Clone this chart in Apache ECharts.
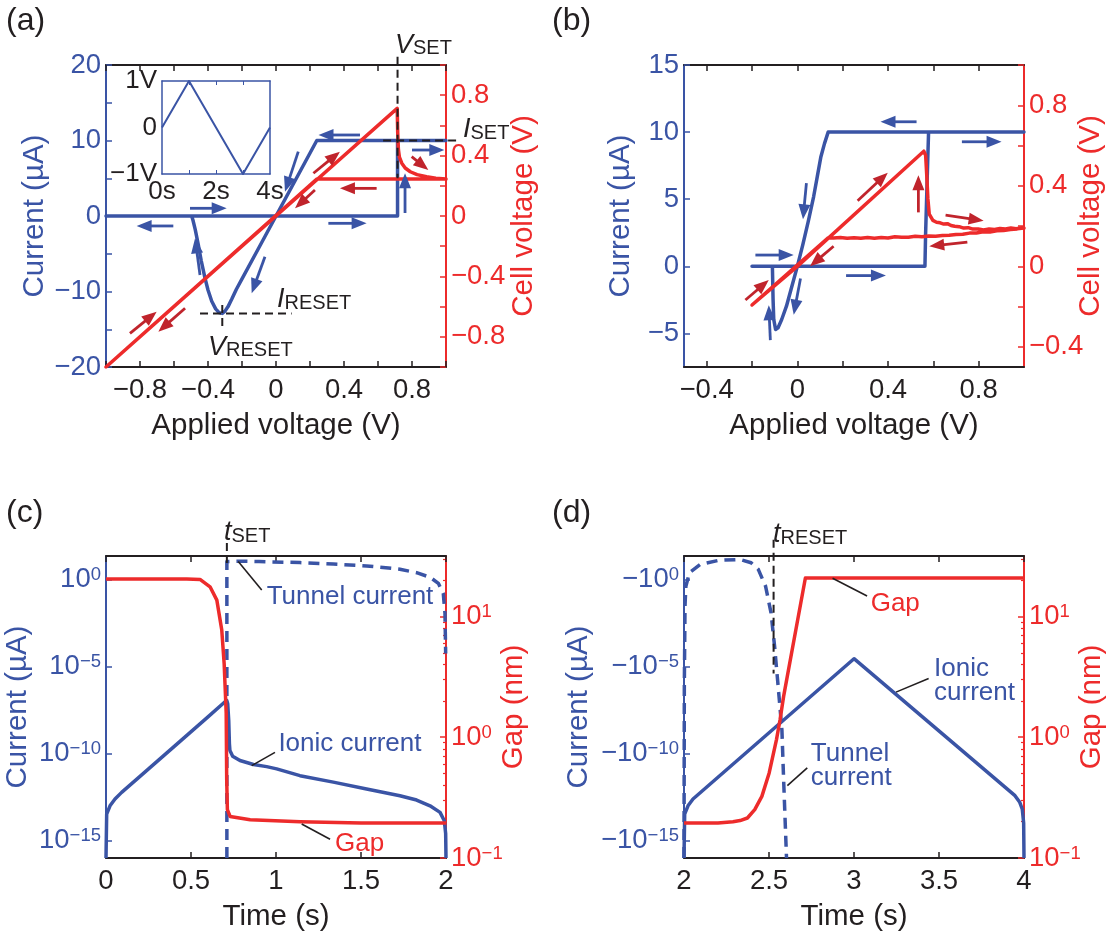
<!DOCTYPE html>
<html>
<head>
<meta charset="utf-8">
<script src="https://cdn.jsdelivr.net/npm/echarts@6.0.0/dist/echarts.min.js"></script>
<style>
html,body{margin:0;padding:0;background:#ffffff;}
#chart{width:1106px;height:941px;}
</style>
</head>
<body>
<div id="chart"></div>
<script>
// ================= DATA =================
// (a) simulation: applied voltage (V) -> current (µA), in sweep order
const aApplied = [0, 0.715, 0.715, 1.0, 0.24, 0.0, -0.1, -0.2, -0.233, -0.26, -0.282, -0.3, -0.316, -0.335, -0.355, -0.378, -0.4, -0.418, -0.44, -0.457, -0.475, -0.488, -0.496, -1.0, 0.0];
const aCurrent = [0, 0, 10, 10, 10, 0, -4.17, -8.33, -9.7, -11.0, -12.0, -12.6, -12.9, -12.8, -12.3, -11.3, -9.8, -8.2, -5.9, -3.8, -1.8, -0.6, 0, 0, 0];
// (a) cell voltage (V)
const aAppliedCell = [0, 0.713, 0.716, 0.72, 0.726, 0.74, 0.76, 0.79, 0.83, 0.886, 0.94, 1.0, 0.24, -1.0, 0.0];
const aCellVoltage = [0, 0.713, 0.55, 0.44, 0.39, 0.35, 0.318, 0.293, 0.274, 0.26, 0.25, 0.245, 0.245, -1.0, 0.0];
// (a) inset: applied voltage waveform
const insetTime = [0, 1, 3, 4];
const insetVoltage = [0, 1, -1, 0];

// (b) experiment: applied voltage (V) -> current (µA)
const bApplied = [0, 0.563, 0.566, 0.572, 0.579, 1.0, 0.136, 0.12, 0.104, 0.088, 0.072, 0.048, 0.024, 0, -0.024, -0.048, -0.069, -0.085, -0.096, -0.104, -0.107, -0.11, -0.2, 0];
const bCurrent = [0, 0, 2.5, 6, 10, 10, 10, 9.16, 8.17, 6.68, 5.2, 3.34, 1.6, 0, -1.49, -2.97, -3.96, -4.58, -4.7, -3.96, -2.48, 0, 0, 0];
// (b) cell voltage (V)
const bAppliedCell = [0, 0.558, 0.566, 0.571, 0.576, 0.582, 0.598, 0.614, 0.63, 0.646, 0.662, 0.678, 0.694, 0.714, 0.734, 0.754, 0.774, 0.798, 0.822, 0.846, 0.87, 0.894, 0.918, 0.942, 0.966, 0.99, 1.0,
  0.97, 0.94, 0.91, 0.88, 0.85, 0.82, 0.79, 0.76, 0.73, 0.70, 0.67, 0.64, 0.61, 0.58, 0.55, 0.52, 0.49, 0.46, 0.43, 0.40, 0.37, 0.34, 0.31, 0.28, 0.25, 0.22, 0.19, 0.16, 0.136, -0.2, 0];
const bCellVoltage = [0, 0.572, 0.552, 0.452, 0.335, 0.259, 0.228, 0.219, 0.216, 0.21, 0.212, 0.203, 0.199, 0.197, 0.19, 0.192, 0.185, 0.186, 0.181, 0.186, 0.183, 0.188, 0.185, 0.19, 0.187, 0.192, 0.19,
  0.186, 0.183, 0.178, 0.177, 0.171, 0.172, 0.166, 0.165, 0.159, 0.158, 0.154, 0.153, 0.15, 0.151, 0.147, 0.149, 0.145, 0.144, 0.147, 0.141, 0.143, 0.14, 0.143, 0.139, 0.142, 0.14, 0.143, 0.141, 0.142, -0.192, 0];

// (c) SET: time (s), log10 of current (µA) and gap (nm)
const cTimeIonic = [0, 0.004, 0.0235, 0.053, 0.092, 0.2, 0.4, 0.6, 0.71, 0.716, 0.722, 0.726, 0.729, 0.745, 0.788, 0.867, 0.945, 1.004, 1.141, 1.337, 1.533, 1.729, 1.827, 1.906, 1.965, 1.99, 1.998, 2.0];
const cIonicLog10 = [-16, -13.48, -13.0, -12.61, -12.23, -11.31, -9.6, -7.89, -6.94, -7.14, -8.1, -9.44, -9.83, -10.15, -10.4, -10.63, -10.75, -10.88, -11.27, -11.64, -12.04, -12.42, -12.67, -13.0, -13.38, -13.86, -14.6, -16];
const cTimeTunnel = [0.711, 0.711, 0.72, 0.8, 0.9, 1.141, 1.337, 1.533, 1.729, 1.827, 1.906, 1.955, 1.984, 1.994, 1.998];
const cTunnelLog10 = [-16, 1.03, 1.07, 1.05, 1.03, 0.97, 0.89, 0.78, 0.59, 0.39, 0.13, -0.22, -0.8, -1.95, -4.25];
const cTimeGap = [0, 0.3, 0.475, 0.553, 0.612, 0.652, 0.681, 0.695, 0.707, 0.71, 0.714, 0.73, 0.848, 1.142, 1.5, 2.0];
const cGapLog10 = [1.31, 1.31, 1.31, 1.306, 1.245, 1.135, 0.887, 0.61, 0.2, -0.35, -0.6, -0.656, -0.683, -0.70, -0.71, -0.71];

// (d) RESET: time (s), log10 of |current| (µA) and gap (nm)
const dTimeTunnel = [2.0, 2.002, 2.006, 2.011, 2.032, 2.096, 2.203, 2.33, 2.395, 2.437, 2.48, 2.512, 2.533, 2.554, 2.576, 2.586, 2.603];
const dTunnelLog10 = [-16, -6, -1.5, -0.39, 0.39, 0.87, 1.1, 1.15, 0.96, 0.58, -0.39, -1.92, -3.85, -6.15, -8.65, -11.5, -16];
const dTimeIonic = [2.0, 2.004, 2.0235, 2.053, 3.0, 3.947, 3.975, 3.99, 3.998, 4.0];
const dIonicLog10 = [-16, -13.48, -13.0, -12.61, -4.55, -12.42, -12.8, -13.2, -14.0, -16];
const dTimeGap = [2.0, 2.2, 2.288, 2.33, 2.373, 2.416, 2.458, 2.501, 2.544, 2.565, 2.586, 2.714, 4.0];
const dGapLog10 = [-0.71, -0.71, -0.70, -0.69, -0.669, -0.60, -0.49, -0.296, -0.02, 0.145, 0.338, 1.318, 1.318];

// tick / label values
const aTicksX = [-1, -0.8, -0.6, -0.4, -0.2, 0, 0.2, 0.4, 0.6, 0.8, 1];
const aLabelsX = [-0.8, -0.4, 0, 0.4, 0.8];
const aTicksI = [-20, -15, -10, -5, 0, 5, 10, 15, 20];
const aLabelsI = [-20, -10, 0, 10, 20];
const aTicksV = [-1, -0.8, -0.6, -0.4, -0.2, 0, 0.2, 0.4, 0.6, 0.8, 1];
const aLabelsV = [-0.8, -0.4, 0, 0.4, 0.8];
const bTicksX = [-0.4, -0.2, 0, 0.2, 0.4, 0.6, 0.8];
const bLabelsX = [-0.4, 0, 0.4, 0.8];
const bTicksI = [-5, 0, 5, 10, 15];
const bTicksV = [-0.4, -0.2, 0, 0.2, 0.4, 0.6, 0.8, 1];
const bLabelsV = [-0.4, 0, 0.4, 0.8];
const cTicksX = [0, 0.5, 1, 1.5, 2];
const dTicksX = [2, 2.5, 3, 3.5, 4];
const logCurrentTicks = [-15, -10, -5, 0];
const logGapTicks = [-1, 0, 1];
const logGapMinor = [2, 3, 4, 5, 6, 7, 8, 9, 20, 30].map(v => Math.log10(v)).concat([0.2, 0.3, 0.4, 0.5, 0.6, 0.7, 0.8, 0.9].map(v => Math.log10(v)));

// ================= STYLE =================
const BLUE = '#3a54a5', RED = '#ed2b2b', DRED = '#c0242c', BLACK = '#231f20';
const FONT = "'Liberation Sans', Arial, Helvetica, sans-serif";
const TICK = 27.5, TITLE = 29.5;

const zip = (xs, ys) => xs.map((x, i) => [x, ys[i]]);
const num = v => { const r = Math.round(v * 1000) / 1000; return (r < 0 ? '\u2212' : '') + Math.abs(r); };
const pow10 = prefix => v => { const n = Math.round(v); return '{b|' + prefix + '10}{s|' + (n < 0 ? '\u2212' + (-n) : n) + '}'; };
const logRich = color => ({
  b: { fontSize: TICK, lineHeight: 28, color: color, fontFamily: FONT, verticalAlign: 'bottom' },
  s: { fontSize: 18.5, lineHeight: 11, color: color, fontFamily: FONT, verticalAlign: 'top' }
});

function bottomX(gi, min, max, ticks, labels, fmt, name) {
  return {
    type: 'value', gridIndex: gi, position: 'bottom', min: min, max: max,
    axisLine: { show: true, onZero: false, lineStyle: { color: BLACK, width: 2 } },
    axisTick: { show: true, inside: true, length: 6, lineStyle: { color: BLACK, width: 1.5 }, customValues: ticks },
    axisLabel: { show: true, customValues: labels, formatter: fmt, color: BLACK, fontSize: TICK, fontFamily: FONT, margin: 9, hideOverlap: false },
    splitLine: { show: false },
    name: name, nameLocation: 'middle', nameGap: 44,
    nameTextStyle: { color: BLACK, fontSize: TITLE, fontFamily: FONT }
  };
}
function topX(gi, min, max, ticks) {
  return {
    type: 'value', gridIndex: gi, position: 'top', min: min, max: max,
    axisLine: { show: true, onZero: false, lineStyle: { color: BLACK, width: 2 } },
    axisTick: { show: true, inside: true, length: 6, lineStyle: { color: BLACK, width: 1.5 }, customValues: ticks },
    axisLabel: { show: false }, splitLine: { show: false }
  };
}
function sideY(gi, pos, min, max, ticks, labels, fmt, color, name, gap, rich, noMove) {
  const lab = { show: true, customValues: labels, formatter: fmt, color: color, fontSize: TICK, fontFamily: FONT, margin: 5, hideOverlap: false };
  if (rich) lab.rich = rich;
  const ax = {
    type: 'value', gridIndex: gi, position: pos, min: min, max: max,
    axisLine: { show: true, onZero: false, lineStyle: { color: color, width: 2 } },
    axisTick: { show: true, inside: true, length: 6, lineStyle: { color: color, width: 1.5 }, customValues: ticks },
    axisLabel: lab, splitLine: { show: false },
    name: name, nameLocation: 'middle', nameGap: gap,
    nameTextStyle: { color: color, fontSize: TITLE, fontFamily: FONT }
  };
  if (noMove) ax.nameMoveOverlap = false;
  return ax;
}
function minorY(gi, min, max, ticks, color) {
  return {
    type: 'value', gridIndex: gi, position: 'right', min: min, max: max,
    axisLine: { show: false, onZero: false },
    axisTick: { show: true, inside: true, length: 3, lineStyle: { color: color, width: 1.2 }, customValues: ticks },
    axisLabel: { show: false }, splitLine: { show: false }
  };
}

const W = 340, H = 302;
const G = (left, top, w, h) => ({ left: left, top: top, width: w, height: h, outerBoundsMode: 'none', containLabel: false });
const option = {
  animation: false,
  backgroundColor: '#ffffff',
  textStyle: { fontFamily: FONT },
  grid: [
    G(106, 65, W, H),
    G(684, 65, W, H),
    G(106, 556, W, H),
    G(684, 556, W, H),
    G(162, 81, 108, 93)
  ],
  xAxis: [
    bottomX(0, -1, 1, aTicksX, aLabelsX, num, 'Applied voltage (V)'),
    topX(0, -1, 1, aTicksX),
    bottomX(1, -0.5, 1, bTicksX, bLabelsX, num, 'Applied voltage (V)'),
    topX(1, -0.5, 1, bTicksX),
    bottomX(2, 0, 2, cTicksX, cTicksX, num, 'Time (s)'),
    topX(2, 0, 2, cTicksX),
    bottomX(3, 2, 4, dTicksX, dTicksX, num, 'Time (s)'),
    topX(3, 2, 4, dTicksX),
    { type: 'value', gridIndex: 4, position: 'bottom', min: 0, max: 4,
      axisLine: { show: true, onZero: false, lineStyle: { color: BLUE, width: 1.5 } },
      axisTick: { show: true, inside: true, length: 4, lineStyle: { color: BLUE, width: 1 }, customValues: [1, 2, 3] },
      axisLabel: { show: true, customValues: [0, 2, 4], formatter: v => v + 's', color: BLACK, fontSize: 26, fontFamily: FONT, margin: 5 },
      splitLine: { show: false } },
    { type: 'value', gridIndex: 4, position: 'top', min: 0, max: 4,
      axisLine: { show: true, onZero: false, lineStyle: { color: BLUE, width: 1.5 } },
      axisTick: { show: true, inside: true, length: 4, lineStyle: { color: BLUE, width: 1 }, customValues: [1, 2, 3] },
      axisLabel: { show: false }, splitLine: { show: false } }
  ],
  yAxis: [
    sideY(0, 'left', -20, 20, aTicksI, aLabelsI, num, BLUE, 'Current (\u00b5A)', 56),
    sideY(0, 'right', -1, 1, aTicksV, aLabelsV, num, RED, 'Cell voltage (V)', 47),
    sideY(1, 'left', -7.5, 15, bTicksI, bTicksI, num, BLUE, 'Current (\u00b5A)', 48),
    sideY(1, 'right', -0.5, 1, bTicksV, bLabelsV, num, RED, 'Cell voltage (V)', 52, null, true),
    sideY(2, 'left', -16, 1.35, logCurrentTicks, logCurrentTicks, pow10(''), BLUE, 'Current (\u00b5A)', 73, logRich(BLUE)),
    sideY(2, 'right', -1, 1.5, logGapTicks, logGapTicks, pow10(''), RED, 'Gap (nm)', 53, logRich(RED), true),
    sideY(3, 'left', -16, 1.35, logCurrentTicks, logCurrentTicks, pow10('\u2212'), BLUE, 'Current (\u00b5A)', 90, logRich(BLUE)),
    sideY(3, 'right', -1, 1.5, logGapTicks, logGapTicks, pow10(''), RED, 'Gap (nm)', 53, logRich(RED), true),
    { type: 'value', gridIndex: 4, position: 'left', min: -1, max: 1,
      axisLine: { show: true, onZero: false, lineStyle: { color: BLUE, width: 1.5 } },
      axisTick: { show: false },
      axisLabel: { show: true, customValues: [-1, 0, 1], formatter: v => v === 0 ? '0' : (v > 0 ? '1V' : '\u22121V'), color: BLACK, fontSize: 26, fontFamily: FONT, margin: 5 },
      splitLine: { show: false } },
    { type: 'value', gridIndex: 4, position: 'right', min: -1, max: 1,
      axisLine: { show: true, onZero: false, lineStyle: { color: BLUE, width: 1.5 } },
      axisTick: { show: false }, axisLabel: { show: false }, splitLine: { show: false } },
    minorY(2, -1, 1.5, logGapMinor, RED),
    minorY(3, -1, 1.5, logGapMinor, RED)
  ],
  series: []
};

function line(xi, yi, data, color, width, dash, z) {
  return {
    type: 'line', xAxisIndex: xi, yAxisIndex: yi, data: data, showSymbol: false, symbol: 'none',
    lineStyle: { color: color, width: width, type: dash || 'solid', join: 'round', cap: 'butt' },
    z: z || 2, silent: true
  };
}
option.series = [
  line(0, 0, zip(aApplied, aCurrent), BLUE, 3.5, null, 2),
  line(0, 1, zip(aAppliedCell, aCellVoltage), RED, 3.5, null, 3),
  line(8, 8, zip(insetTime, insetVoltage), BLUE, 2, null, 2),
  line(2, 2, zip(bApplied, bCurrent), BLUE, 3.5, null, 2),
  line(2, 3, zip(bAppliedCell, bCellVoltage), RED, 3.5, null, 3),
  line(4, 4, zip(cTimeIonic, cIonicLog10), BLUE, 3.5, null, 2),
  line(4, 4, zip(cTimeTunnel, cTunnelLog10), BLUE, 3.5, [11, 7], 2),
  line(4, 5, zip(cTimeGap, cGapLog10), RED, 3.5, null, 3),
  line(6, 6, zip(dTimeIonic, dIonicLog10), BLUE, 3.5, null, 2),
  line(6, 6, zip(dTimeTunnel, dTunnelLog10), BLUE, 3.5, [11, 7], 2),
  line(6, 7, zip(dTimeGap, dGapLog10), RED, 3.5, null, 3)
];

const chart = echarts.init(document.getElementById('chart'), null, { renderer: 'canvas' });
chart.setOption(option);

// ================= ANNOTATIONS (placed in data coordinates) =================
const PAN = { a: { x: 0, L: 0, R: 1 }, b: { x: 2, L: 2, R: 3 }, c: { x: 4, L: 4, R: 5 }, d: { x: 6, L: 6, R: 7 } };
function P(p, ax, x, y) {
  const q = PAN[p];
  return [chart.convertToPixel({ xAxisIndex: q.x }, x), chart.convertToPixel({ yAxisIndex: q[ax] }, y)];
}
const els = [];
function seg(p, ax, a, b, color, width, dash) {
  const p0 = P(p, ax, a[0], a[1]), p1 = P(p, ax, b[0], b[1]);
  els.push({ type: 'line', z: 20, silent: true, shape: { x1: p0[0], y1: p0[1], x2: p1[0], y2: p1[1] },
    style: { stroke: color, lineWidth: width, lineDash: dash || null } });
}
function arrow(p, ax, a, b, color) {
  const p0 = P(p, ax, a[0], a[1]), p1 = P(p, ax, b[0], b[1]);
  const dx = p1[0] - p0[0], dy = p1[1] - p0[1], L = Math.hypot(dx, dy), ux = dx / L, uy = dy / L;
  const hl = 15, hw = 6, bx = p1[0] - ux * hl, by = p1[1] - uy * hl;
  els.push({ type: 'line', z: 21, silent: true, shape: { x1: p0[0], y1: p0[1], x2: bx + ux * 2, y2: by + uy * 2 },
    style: { stroke: color, lineWidth: 2.8 } });
  els.push({ type: 'polygon', z: 21, silent: true,
    shape: { points: [[p1[0], p1[1]], [bx - uy * hw, by + ux * hw], [bx + uy * hw, by - ux * hw]] },
    style: { fill: color } });
}
function txt(p, ax, at, text, color, rich, lineH) {
  const q = P(p, ax, at[0], at[1]);
  const st = { text: text, fill: color, fontSize: 26, fontFamily: FONT, align: 'left', verticalAlign: 'middle' };
  if (lineH) st.lineHeight = lineH;
  if (rich) st.rich = rich;
  els.push({ type: 'text', z: 22, silent: true, x: q[0], y: q[1], style: st });
}
const subRich = {
  i: { fontSize: 27, fontStyle: 'italic', fontFamily: FONT, fill: BLACK, lineHeight: 27, verticalAlign: 'bottom' },
  s: { fontSize: 20, fontFamily: FONT, fill: BLACK, lineHeight: 16, verticalAlign: 'bottom' }
};
const DASH = [8, 5];

// (a) guide lines and labels
seg('a', 'L', [0.715, 21.1], [0.715, 5], BLACK, 2, DASH);
seg('a', 'L', [0.63, 10], [1.07, 10], BLACK, 2, DASH);
seg('a', 'L', [-0.316, -11.8], [-0.316, -15.1], BLACK, 2, DASH);
seg('a', 'L', [-0.447, -12.9], [0.092, -12.9], BLACK, 2, DASH);
txt('a', 'L', [0.70, 22.6], '{i|V}{s|SET}', BLACK, subRich);
txt('a', 'L', [1.10, 11.4], '{i|I}{s|SET}', BLACK, subRich);
txt('a', 'L', [0.006, -11.1], '{i|I}{s|RESET}', BLACK, subRich);
txt('a', 'L', [-0.40, -17.35], '{i|V}{s|RESET}', BLACK, subRich);
// (a) arrows
[[[0.494, 10.73], [0.25, 10.73]], [[0.80, 8.74], [0.99, 8.74]], [[0.759, 0.4], [0.759, 5.65]],
 [[0.308, -0.97], [0.533, -0.97]], [[-0.506, 1.02], [-0.29, 1.02]], [[-0.604, -1.32], [-0.82, -1.32]],
 [[0.131, 8.52], [0.053, 3.22]], [[-0.065, -5.39], [-0.143, -10.24]], [[-0.447, -7.81], [-0.476, -2.96]]
].forEach(a => arrow('a', 'L', a[0], a[1], BLUE));
[[[0.22, 0.283], [0.376, 0.426]], [[0.229, 0.172], [0.112, 0.051]], [[0.592, 0.183], [0.376, 0.183]],
 [[0.798, 0.393], [0.896, 0.305]], [[-0.859, -0.777], [-0.702, -0.634]], [[-0.535, -0.611], [-0.692, -0.766]]
].forEach(a => arrow('a', 'R', a[0], a[1], DRED));

// (b) arrows
[[[0.526, 10.77], [0.367, 10.77]], [[0.726, 9.28], [0.901, 9.28]], [[0.04, 6.2], [0.025, 3.5]],
 [[-0.185, 0.84], [-0.016, 0.84]], [[0.215, -0.69], [0.391, -0.69]], [[0.014, -0.9], [-0.016, -3.6]],
 [[-0.119, -5.5], [-0.126, -2.9]]
].forEach(a => arrow('b', 'L', a[0], a[1], BLUE));
[[[0.266, 0.326], [0.399, 0.465]], [[0.534, 0.268], [0.534, 0.452]], [[0.654, 0.254], [0.822, 0.226]],
 [[0.75, 0.12], [0.582, 0.10]], [[0.16, 0.10], [0.056, 0.0]], [[-0.229, -0.167], [-0.126, -0.068]]
].forEach(a => arrow('b', 'R', a[0], a[1], DRED));

// (c) labels
seg('c', 'L', [0.711, 2.1], [0.711, 0.95], BLACK, 2, DASH);
txt('c', 'L', [0.694, 2.68], '{i|t}{s|SET}', BLACK, subRich);
seg('c', 'L', [0.778, 1.03], [0.916, -0.6], BLACK, 1.6);
txt('c', 'L', [0.945, -0.99], 'Tunnel current', BLUE);
seg('c', 'L', [0.857, -10.69], [0.994, -9.93], BLACK, 1.6);
txt('c', 'L', [1.014, -9.44], 'Ionic current', BLUE);
seg('c', 'L', [1.151, -14.05], [1.318, -14.92], BLACK, 1.6);
txt('c', 'L', [1.347, -15.2], 'Gap', RED);

// (d) labels
seg('d', 'L', [2.527, 2.28], [2.527, -5.4], BLACK, 2, DASH);
txt('d', 'L', [2.524, 2.56], '{i|t}{s|RESET}', BLACK, subRich);
seg('d', 'L', [2.874, 0.07], [3.077, -0.95], BLACK, 1.6);
txt('d', 'L', [3.098, -1.37], 'Gap', RED);
seg('d', 'L', [3.247, -6.47], [3.439, -5.69], BLACK, 1.6);
txt('d', 'L', [3.471, -5.8], 'Ionic\ncurrent', BLUE, null, 24);
seg('d', 'L', [2.608, -11.84], [2.725, -10.82], BLACK, 1.6);
txt('d', 'L', [2.746, -10.7], 'Tunnel\ncurrent', BLUE, null, 24);

// panel letters
[['(a)', 6, 21], ['(b)', 552, 21], ['(c)', 6, 513], ['(d)', 552, 513]].forEach(t => {
  els.push({ type: 'text', z: 22, silent: true, x: t[1], y: t[2],
    style: { text: t[0], fill: BLACK, fontSize: 32, fontFamily: FONT, align: 'left', verticalAlign: 'middle' } });
});

chart.setOption({ graphic: { elements: els } });
</script>
</body>
</html>
